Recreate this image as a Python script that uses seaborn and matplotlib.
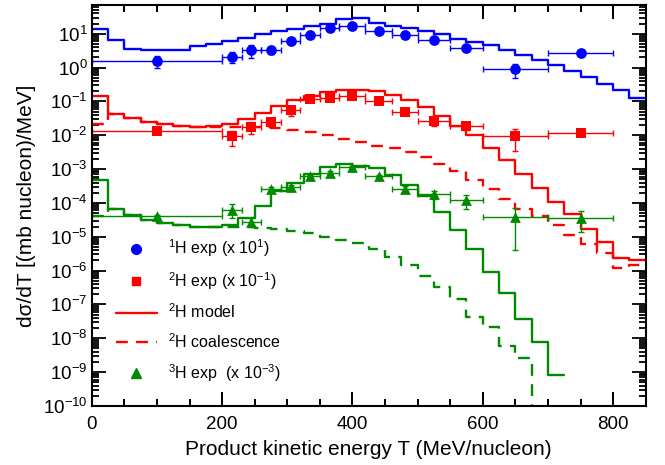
import numpy as np
import matplotlib
matplotlib.use("Agg")
import matplotlib.pyplot as plt
from matplotlib.lines import Line2D
from matplotlib.ticker import MultipleLocator, LogLocator, NullFormatter
import seaborn as sns

# bin edges of the model histograms (MeV/nucleon)
edges = [0, 25, 50, 75, 100, 125, 150, 175, 200, 225, 250, 275, 300, 325, 350,
         375, 400, 425, 450, 475, 500, 525, 550, 575, 600, 625, 650, 675, 700,
         725, 750, 775, 800, 825, 850]

# 1H model (x 10)
h1_model = [14.1, 6.6, 3.5, 3.2, 3.2, 3.4, 4.2, 5.0, 6.0, 7.6, 10, 12, 13.8, 17,
            20, 28, 30, 21, 17, 14.5, 12, 9.5, 7.1, 5.6, 4.5, 3.2, 2.4, 1.66,
            1.18, 0.8, 0.53, 0.33, 0.21, 0.13]
# 2H model and coalescence (x 0.1)
h2_model = [0.14, 0.043, 0.032, 0.024, 0.021, 0.019, 0.018, 0.019, 0.022, 0.030,
            0.045, 0.071, 0.107, 0.14, 0.19, 0.22, 0.22, 0.2, 0.15, 0.107, 0.066,
            0.038, 0.019, 0.0102, 0.0043, 0.0018, 7.2e-4, 2.7e-4, 1.1e-4, 4.6e-5,
            1.7e-5, 6.8e-6, 2.3e-6, 2.0e-6]
h2_coal = [0.022, 0.043, 0.032, 0.024, 0.021, 0.019, 0.018, 0.018, 0.018, 0.0175,
           0.017, 0.016, 0.014, 0.0126, 0.010, 0.0076, 0.0063, 0.0048, 0.0042,
           0.0032, 0.0022, 0.0014, 8.5e-4, 4.8e-4, 2.5e-4, 1.3e-4, 6.8e-5, 4.2e-5,
           2.2e-5, 1.1e-5, 6.3e-6, 3.3e-6, 1.2e-6, 1.5e-6]
# 3H model and coalescence (x 1e-3)
h3_model = [4.8e-4, 6.8e-5, 4.5e-5, 3.2e-5, 2.5e-5, 2.2e-5, 2.0e-5, 1.9e-5, 2.3e-5,
            3.5e-5, 7.9e-5, 2.3e-4, 4.0e-4, 7.1e-4, 1.12e-3, 1.4e-3, 1.26e-3,
            1.05e-3, 6.6e-4, 3.3e-4, 1.6e-4, 5.4e-5, 1.6e-5, 4.2e-6, 9.1e-7,
            2.2e-7, 3.7e-8, 7.6e-9, 8.3e-10]
h3_coal = [4e-5, 6.8e-5, 4.5e-5, 3.2e-5, 2.5e-5, 2.2e-5, 2.0e-5, 1.9e-5, 2.0e-5,
           1.9e-5, 1.8e-5, 1.66e-5, 1.5e-5, 1.3e-5, 1.0e-5, 8e-6, 6.6e-6, 4.2e-6,
           2.6e-6, 1.5e-6, 7.1e-7, 3.3e-7, 1.4e-7, 4.3e-8, 2.1e-8, 5.9e-9, 2.6e-9,
           1e-12]

# experimental points
T_exp = [100, 215, 245, 275, 305, 335, 365, 400, 440, 480, 525, 575, 650, 750]
T_half = [100, 15, 15, 15, 15, 15, 15, 20, 20, 20, 25, 25, 50, 50]
h1_exp = [1.58, 2.1, 3.2, 3.3, 6.0, 9.3, 14.8, 16.6, 12, 9.3, 6.6, 3.8, 0.89, 2.7]
h1_err = [0.6, 0.7, 1.3, 0.8, 0.8, 0.8, 1.0, 1.0, 1.0, 0.8, 0.6, 0.4, 0.4, 0.3]
h2_exp = [0.0135, 0.0092, 0.018, 0.025, 0.056, 0.12, 0.126, 0.14, 0.105, 0.05,
          0.026, 0.019, 0.0095, 0.0118]
h2_err = [0.001, 0.0045, 0.007, 0.008, 0.018, 0.01, 0.01, 0.01, 0.01, 0.005,
          0.007, 0.005, 0.006, 0.002]
h3_exp = [4e-5, 6.3e-5, 2.8e-5, 2.6e-4, 3e-4, 6.3e-4, 7.9e-4, 1.17e-3, 6.3e-4,
          2.6e-4, 1.8e-4, 1.2e-4, 3.8e-5, 3.5e-5]
h3_err = [4e-6, 2.8e-5, 8e-6, 4e-5, 4e-5, 6e-5, 6e-5, 1e-4, 6e-5, 6e-5, 5e-5,
          5.5e-5, 3.4e-5, 2.1e-5]

BLUE = "#0000ff"
RED = "#ff0000"
GREEN = "#008a00"

sns.set_theme(style="ticks")
plt.rcParams["font.family"] = ["Liberation Sans", "DejaVu Sans"]
plt.rcParams["mathtext.fontset"] = "custom"
plt.rcParams["mathtext.rm"] = "Liberation Sans"
plt.rcParams["mathtext.it"] = "Liberation Sans:italic"
plt.rcParams["mathtext.default"] = "regular"
plt.rcParams["axes.unicode_minus"] = False
for a in ("xtick", "ytick"):
    plt.rcParams[a + ".direction"] = "in"
    plt.rcParams[a + ".color"] = "black"
    plt.rcParams[a + ".labelcolor"] = "black"
    plt.rcParams[a + ".major.size"] = 10
    plt.rcParams[a + ".minor.size"] = 5
    plt.rcParams[a + ".major.width"] = 1.3
    plt.rcParams[a + ".minor.width"] = 1.3
    plt.rcParams[a + ".labelsize"] = 13.5
plt.rcParams["xtick.top"] = True
plt.rcParams["ytick.right"] = True
plt.rcParams["xtick.major.pad"] = 7
plt.rcParams["ytick.major.pad"] = 3


def steps(vals):
    y = np.array(list(vals) + [vals[-1]], dtype=float)
    x = np.array(edges[:len(y)], dtype=float)
    return x, y


fig, ax = plt.subplots(figsize=(6.65, 4.65), dpi=100)
fig.subplots_adjust(left=0.138, right=0.971, bottom=0.127, top=0.989)
ax.set_yscale("log")

# model histograms
for vals, col, ls in [(h1_model, BLUE, "-"), (h2_coal, RED, (0, (5, 3.5))),
                      (h2_model, RED, "-"), (h3_coal, GREEN, (0, (5, 3.5))),
                      (h3_model, GREEN, "-")]:
    xs, ys = steps(vals)
    sns.lineplot(x=xs, y=ys, ax=ax, color=col, lw=1.7, linestyle=ls,
                 drawstyle="steps-post", estimator=None, sort=False)

# data with error bars
for yv, ye, col, mk, ms in [(h1_exp, h1_err, BLUE, "o", 60),
                            (h2_exp, h2_err, RED, "s", 42),
                            (h3_exp, h3_err, GREEN, "^", 60)]:
    ax.errorbar(T_exp, yv, xerr=T_half, yerr=ye, fmt="none", ecolor=col,
                elinewidth=1.0, capsize=2, capthick=1.0)
    sns.scatterplot(x=T_exp, y=yv, ax=ax, color=col, marker=mk, s=ms,
                    linewidth=0, zorder=5)

ax.set_xlim(0, 850)
ax.set_ylim(1e-10, 70)
ax.xaxis.set_major_locator(MultipleLocator(200))
ax.xaxis.set_minor_locator(MultipleLocator(50))
ax.yaxis.set_major_locator(LogLocator(base=10, numticks=30))
ax.yaxis.set_minor_locator(LogLocator(base=10, subs=np.arange(2, 10), numticks=30))
ax.yaxis.set_minor_formatter(NullFormatter())
ax.tick_params(which="both", direction="in", top=True, right=True,
               width=1.3, color="black")
ax.tick_params(which="major", length=10)
ax.tick_params(which="minor", length=5)
for sp in ax.spines.values():
    sp.set_linewidth(1.5)
    sp.set_color("black")

# inward x tick marks on bottom and top, placed at the x locator positions
ax_h = fig.get_size_inches()[1] * 72 * (0.989 - 0.127)   # axes height in points
trans = ax.get_xaxis_transform()
for locs, size in [(ax.xaxis.get_majorticklocs(), 10), (ax.xaxis.get_minorticklocs(), 5)]:
    locs = [v for v in locs if 0 <= v <= 850]
    frac = size / ax_h
    ax.vlines(locs, 0, frac, transform=trans, colors="black", lw=1.3,
              zorder=6, clip_on=False)
    ax.vlines(locs, 1 - frac, 1, transform=trans, colors="black", lw=1.3,
              zorder=6, clip_on=False)
ax.set_xlim(0, 850)
ax.set_ylim(1e-10, 70)

ax.set_xlabel("Product kinetic energy T (MeV/nucleon)", fontsize=15, labelpad=5,
              color="black")
ax.set_ylabel("dσ/dT [(mb nucleon)/MeV]", fontsize=15, labelpad=5, color="black")

handles = [
    Line2D([], [], color=BLUE, marker="o", ls="none", markersize=7),
    Line2D([], [], color=RED, marker="s", ls="none", markersize=6),
    Line2D([], [], color=RED, lw=1.7),
    Line2D([], [], color=RED, lw=1.7, ls=(0, (5, 3.5))),
    Line2D([], [], color=GREEN, marker="^", ls="none", markersize=7),
]
labels = ["$^1$H exp (x 10$^1$)", "$^2$H exp (x 10$^{-1}$)", "$^2$H model",
          "$^2$H coalescence", "$^3$H exp  (x 10$^{-3}$)"]
ax.legend(handles, labels, loc="upper left", bbox_to_anchor=(0.043, 0.42),
          frameon=False, fontsize=11.5, handlelength=2.6, handletextpad=0.7,
          labelspacing=0.68, borderpad=0, borderaxespad=0, labelcolor="black")

plt.savefig("out.png", dpi=100)
plt.close()
